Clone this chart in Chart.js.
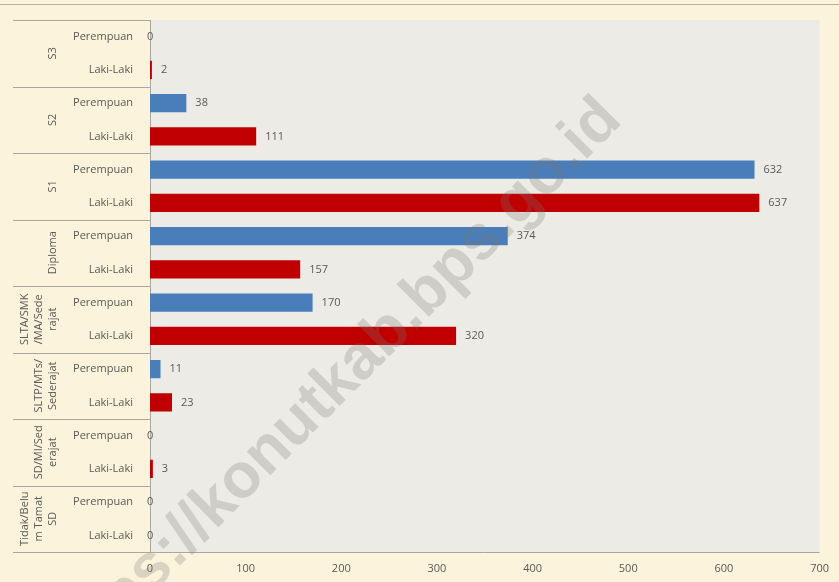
<!DOCTYPE html>
<html>
<head>
<meta charset="utf-8">
<script src="https://cdn.jsdelivr.net/npm/chart.js@4"></script>
<style>
  html, body { margin: 0; padding: 0; background: #fcf3dd; }
  canvas { display: block; }
</style>
</head>
<body>
<canvas id="eduChart" width="839" height="582"></canvas>
<script>
// education level groups, top to bottom
const levels = ['S3', 'S2', 'S1', 'Diploma', 'SLTA/SMK/MA/Sederajat', 'SLTP/MTs/Sederajat', 'SD/MI/Sederajat', 'Tidak/Belum Tamat SD'];
// wrapped text for the rotated group labels
const levelLines = [['S3'], ['S2'], ['S1'], ['Diploma'], ['SLTA/SMK', '/MA/Sede', 'rajat'], ['SLTP/MTs/', 'Sederajat'], ['SD/MI/Sed', 'erajat'], ['Tidak/Belu', 'm Tamat', 'SD']];
const genders = ['Perempuan', 'Laki-Laki'];
const perempuan = [0, 38, 632, 374, 170, 11, 0, 0];
const lakiLaki = [2, 111, 637, 157, 320, 23, 3, 0];
const xTicks = [0, 100, 200, 300, 400, 500, 600, 700];

const colors = { Perempuan: '#4a7ebb', 'Laki-Laki': '#c00000' };

// flatten into one row per gender inside each level
const rowLabels = [];
const rowValues = [];
const rowColors = [];
levels.forEach((lvl, i) => {
  rowLabels.push(genders[0]); rowValues.push(perempuan[i]); rowColors.push(colors.Perempuan);
  rowLabels.push(genders[1]); rowValues.push(lakiLaki[i]); rowColors.push(colors['Laki-Laki']);
});

const textColor = '#5a5a55';
const lineColor = '#a8a8a0';

const backgroundPlugin = {
  id: 'background',
  beforeDraw(chart) {
    const { ctx, chartArea: a } = chart;
    ctx.save();
    ctx.fillStyle = '#fcf3dd';
    ctx.fillRect(0, 0, chart.width, chart.height);
    ctx.fillStyle = '#b9b19c';
    ctx.fillRect(0, 4, chart.width, 1);
    ctx.fillStyle = '#edebe5';
    ctx.fillRect(a.left, a.top, a.right - a.left, a.bottom - a.top);
    ctx.restore();
  }
};

const groupPlugin = {
  id: 'groups',
  afterDraw(chart) {
    const { ctx, chartArea: a } = chart;
    const y = chart.scales.y;
    const x = chart.scales.x;
    const left = 13;
    ctx.save();
    ctx.strokeStyle = lineColor;
    ctx.lineWidth = 1;
    // group separators in the label column
    const bounds = [a.top];
    for (let i = 1; i < levels.length; i++) {
      bounds.push((y.getPixelForValue(2 * i - 1) + y.getPixelForValue(2 * i)) / 2);
    }
    bounds.push(a.bottom);
    bounds.forEach(b => {
      ctx.beginPath();
      ctx.moveTo(left, Math.round(b) + 0.5);
      ctx.lineTo(a.left, Math.round(b) + 0.5);
      ctx.stroke();
    });
    ctx.beginPath();
    ctx.moveTo(a.left, Math.round(a.bottom) + 0.5);
    ctx.lineTo(a.right, Math.round(a.bottom) + 0.5);
    ctx.stroke();

    // rotated group labels
    ctx.fillStyle = textColor;
    ctx.font = '11px "Open Sans"';
    ctx.textAlign = 'center';
    ctx.textBaseline = 'middle';
    levelLines.forEach((lines, i) => {
      const cy = (bounds[i] + bounds[i + 1]) / 2;
      const lastX = 53;
      lines.forEach((ln, k) => {
        const cx = lastX - (lines.length - 1 - k) * 14;
        ctx.save();
        ctx.translate(cx, cy);
        ctx.rotate(-Math.PI / 2);
        ctx.fillText(ln, 0, 0);
        ctx.restore();
      });
    });

    // value labels at the end of each bar
    ctx.textAlign = 'left';
    ctx.font = '11px "Open Sans"';
    rowValues.forEach((v, i) => {
      const px = x.getPixelForValue(v) + (v > 0 ? 9 : -3);
      ctx.fillText(String(v), px, y.getPixelForValue(i));
    });

    // site watermark
    ctx.translate(333, 388);
    ctx.rotate(-Math.PI / 4);
    ctx.font = 'bold 63px "Liberation Sans"';
    ctx.textAlign = 'center';
    ctx.fillStyle = 'rgba(120,120,115,0.26)';
    ctx.fillText('https://konutkab.bps.go.id', 0, 0);
    ctx.restore();
  }
};

new Chart(document.getElementById('eduChart'), {
  type: 'bar',
  data: {
    labels: rowLabels,
    datasets: [{
      data: rowValues,
      backgroundColor: rowColors,
      barPercentage: 0.55,
      categoryPercentage: 1
    }]
  },
  options: {
    indexAxis: 'y',
    responsive: false,
    animation: false,
    layout: { padding: { left: 13, top: 20, right: 17, bottom: 0 } },
    plugins: { legend: { display: false }, tooltip: { enabled: false } },
    scales: {
      y: {
        grid: { display: false },
        border: { display: true, color: lineColor },
        ticks: { color: textColor, font: { family: 'Open Sans', size: 11 }, padding: 9 },
        afterFit(scale) { scale.width = 137; }
      },
      x: {
        min: 0,
        max: 700,
        grid: { display: false, drawTicks: false },
        border: { display: false },
        ticks: {
          stepSize: 100,
          color: textColor,
          font: { family: 'Open Sans', size: 11 },
          padding: 10,
          callback: (v) => xTicks.includes(v) ? v : null
        },
        afterFit(scale) { scale.height = 30; }
      }
    }
  },
  plugins: [backgroundPlugin, groupPlugin]
});
</script>
</body>
</html>
